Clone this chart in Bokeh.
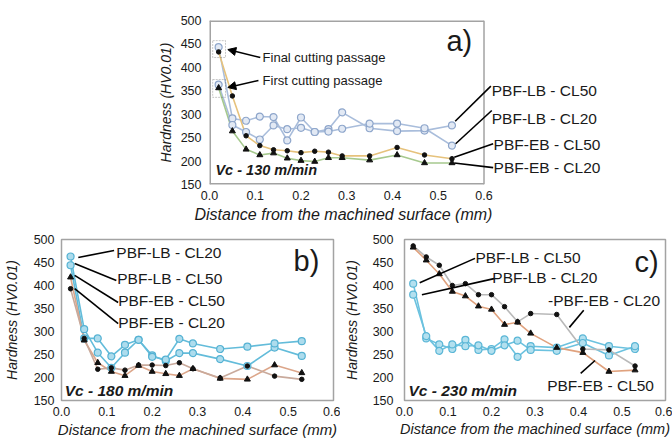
from bokeh.plotting import figure
from bokeh.layouts import column, row
from bokeh.models import (FixedTicker, NumeralTickFormatter, Label, Arrow,
                          NormalHead, BoxAnnotation, Spacer, Range1d, Title)
from bokeh.embed import file_html
from bokeh.resources import INLINE

# ---------------- data ----------------
depth = [0.02, 0.05, 0.08, 0.11, 0.14, 0.17, 0.20, 0.23, 0.26, 0.29, 0.35, 0.41, 0.47, 0.53]

x_ticks = [0.0, 0.1, 0.2, 0.3, 0.4, 0.5, 0.6]
y_ticks = [150, 200, 250, 300, 350, 400, 450, 500]

# a) Vc = 130 m/min
a_lb_cl50 = [443, 291, 286, 295, 294, 244, 293, 262, 268, 304, 270, 264, 265, 276]
a_lb_cl20 = [363, 277, 262, 246, 276, 268, 271, 262, 263, 269, 280, 280, 270, 233]
a_eb_cl50 = [433, 339, 254, 233, 224, 222, 218, 221, 219, 211, 211, 229, 213, 205]
a_eb_cl20 = [356, 264, 225, 213, 217, 206, 201, 199, 207, 207, 202, 213, 196, 196]

# b) Vc = 180 m/min
b_lb_cl20 = [463, 305, 254, 221, 254, 282, 248, 236, 253, 253, 240, 225, 265, 247]
b_lb_cl50 = [444, 285, 285, 246, 271, 282, 245, 239, 284, 274, 262, 267, 274, 279]
b_eb_cl50 = [418, 281, 232, 213, 204, 226, 213, 208, 204, 219, 198, 196, 227, 210]
b_eb_cl20 = [393, 285, 218, 221, 216, 227, 227, 226, 232, 219, 199, 225, 203, 196]

# c) Vc = 230 m/min
c_lb_cl50 = [404, 285, 272, 262, 282, 260, 262, 283, 245, 268, 265, 285, 268, 262]
c_lb_cl20 = [380, 290, 258, 272, 268, 270, 258, 270, 280, 260, 258, 275, 248, 268]
c_eb_cl20 = [486, 462, 444, 400, 404, 380, 380, 354, 321, 339, 337, 262, 260, 225]
c_eb_cl50 = [483, 455, 425, 387, 377, 355, 348, 315, 320, 296, 265, 254, 213, 216]

FONT = "Liberation Sans"
TXT = "#1a1a1a"
FRAME = "#a3a3a3"
XTITLE = "Distance from the machined surface (mm)"
YTITLE = "Hardness (HV0.01)"


def make_fig(width, height, left, right, top, bottom, ylab_standoff, ytick_standoff,
             x_end=0.6, xtitle_size="15px"):
    p = figure(width=width, height=height,
               x_range=Range1d(0, x_end), y_range=Range1d(150, 500),
               output_backend="svg", toolbar_location=None,
               min_border_left=left, min_border_right=right,
               min_border_top=top, min_border_bottom=bottom)
    p.grid.visible = False
    p.background_fill_color = "white"
    p.border_fill_color = "white"
    p.outline_line_color = FRAME
    p.outline_line_width = 1.5
    p.xaxis.ticker = FixedTicker(ticks=x_ticks)
    p.xaxis.formatter = NumeralTickFormatter(format="0.0")
    p.yaxis.ticker = FixedTicker(ticks=y_ticks)
    for ax in p.axis:
        ax.axis_line_color = None
        ax.major_tick_line_color = None
        ax.minor_tick_line_color = None
        ax.major_tick_out = 0
        ax.major_tick_in = 0
        ax.minor_tick_out = 0
        ax.major_label_text_font = FONT
        ax.major_label_text_font_size = "12.5px"
        ax.major_label_text_color = TXT
        ax.axis_label_text_font = FONT
        ax.axis_label_text_font_style = "italic"
        ax.axis_label_text_color = TXT
    p.xaxis.axis_label = XTITLE
    p.xaxis.axis_label_text_font_size = xtitle_size
    p.xaxis.major_label_standoff = 6
    p.xaxis.axis_label_standoff = 2
    p.yaxis.axis_label = YTITLE
    p.yaxis.axis_label_text_font_size = "14px"
    p.yaxis.major_label_standoff = ytick_standoff
    p.yaxis.axis_label_standoff = ylab_standoff
    return p


def markers(p, ys, kind, fill=None, edge=None):
    if kind == "circle":
        p.scatter(depth, ys, marker="circle", size=7, fill_color=fill,
                  line_color=edge, line_width=1.2)
    elif kind == "dot":
        p.scatter(depth, ys, marker="circle", size=4.5, fill_color="#111111",
                  line_color="#111111")
    else:
        p.scatter(depth, ys, marker="triangle", size=6, fill_color="#111111",
                  line_color="#111111")


def text(p, x, y, s, size, style="normal", align="left", baseline="middle"):
    p.add_layout(Label(x=x, y=y, text=s, text_font=FONT, text_font_size=size,
                       text_font_style=style, text_color=TXT, text_align=align,
                       text_baseline=baseline))


def leader(p, x0, y0, x1, y1, head=False, color="black", width=1.6):
    end = NormalHead(size=8, fill_color="black", line_color="black") if head else None
    p.add_layout(Arrow(x_start=x0, y_start=y0, x_end=x1, y_end=y1, end=end,
                       line_color=color, line_width=width))


# ---------------- panel a ----------------
# frame is widened to the right so the series labels can sit beside the data;
# the visible box (0..0.6) is drawn explicitly.
pa = make_fig(532, 225, 69, 0, 20, 41, ylab_standoff=4, ytick_standoff=8,
              x_end=1.012)
pa.outline_line_color = None
pa.xaxis.axis_label = None
pa.add_layout(Title(text=XTITLE, align="left", offset=-15, standoff=2,
                    text_font=FONT, text_font_size="16px",
                    text_font_style="italic", text_color=TXT), "below")
leader(pa, 0, 500, 0.6, 500, color=FRAME, width=3)
leader(pa, 0, 150, 0.6, 150, color=FRAME, width=3)
leader(pa, 0, 150, 0, 500, color=FRAME, width=3)
leader(pa, 0.6, 150, 0.6, 500, color=FRAME, width=1.5)

LB_A, LB_A_FILL, LB_A_EDGE = "#a9bddb", "#e2e9f4", "#8ea6cb"
for ys in (a_lb_cl50, a_lb_cl20):
    pa.line(depth, ys, line_color=LB_A, line_width=1.6)
pa.line(depth, a_eb_cl50, line_color="#e6c27c", line_width=1.6)
pa.line(depth, a_eb_cl20, line_color="#a6c98e", line_width=1.6)
markers(pa, a_lb_cl50, "circle", LB_A_FILL, LB_A_EDGE)
markers(pa, a_lb_cl20, "circle", LB_A_FILL, LB_A_EDGE)
markers(pa, a_eb_cl50, "dot")
markers(pa, a_eb_cl20, "triangle")

pa.add_layout(BoxAnnotation(left=0.007, right=0.035, top=457, bottom=421,
                            fill_alpha=0, line_color="#444444", line_width=1,
                            line_dash="2 1"))
pa.add_layout(BoxAnnotation(left=0.007, right=0.035, top=374, bottom=336,
                            fill_alpha=0, line_color="#444444", line_width=1,
                            line_dash="2 1"))
leader(pa, 0.111, 421, 0.040, 438, head=True)
leader(pa, 0.107, 372, 0.040, 357, head=True)
text(pa, 0.116, 421, "Final cutting passage", "13px")
text(pa, 0.116, 372, "First cutting passage", "13px")
text(pa, 0.518, 457, "a)", "29px")
text(pa, 0.013, 180, "Vc - 130 m/min", "14.5px", style="bold italic")

leader(pa, 0.537, 285, 0.615, 360)
leader(pa, 0.538, 237, 0.617, 308)
leader(pa, 0.535, 208, 0.620, 237)
leader(pa, 0.535, 196, 0.620, 186)
text(pa, 0.617, 351, "PBF-LB - CL50", "15.5px")
text(pa, 0.617, 291, "PBF-LB - CL20", "15.5px")
text(pa, 0.621, 235, "PBF-EB - CL50", "15.5px")
text(pa, 0.621, 186, "PBF-EB - CL20", "15.5px")

# ---------------- panel b ----------------
pb = make_fig(340, 217, 60, 7, 14, 42, ylab_standoff=11, ytick_standoff=7)
LB_B, LB_B_FILL, LB_B_EDGE = "#63bcda", "#addced", "#55b2d3"
pb.line(depth, b_lb_cl20, line_color=LB_B, line_width=1.6)
pb.line(depth, b_lb_cl50, line_color=LB_B, line_width=1.6)
pb.line(depth, b_eb_cl50, line_color="#dca68a", line_width=1.6)
pb.line(depth, b_eb_cl20, line_color="#c9aa9c", line_width=1.6)
markers(pb, b_lb_cl20, "circle", LB_B_FILL, LB_B_EDGE)
markers(pb, b_lb_cl50, "circle", LB_B_FILL, LB_B_EDGE)
markers(pb, b_eb_cl50, "triangle")
markers(pb, b_eb_cl20, "dot")

text(pb, 0.512, 454, "b)", "29px")
text(pb, 0.007, 172, "Vc - 180 m/min", "15.5px", style="bold italic")
leader(pb, 0.037, 461, 0.116, 476)
leader(pb, 0.029, 448, 0.121, 411)
leader(pb, 0.029, 422, 0.125, 363)
leader(pb, 0.029, 393, 0.125, 317)
text(pb, 0.121, 472, "PBF-LB - CL20", "15.5px")
text(pb, 0.123, 415, "PBF-LB - CL50", "15.5px")
text(pb, 0.125, 367, "PBF-EB - CL50", "15.5px")
text(pb, 0.125, 319, "PBF-EB - CL20", "15.5px")

# ---------------- panel c ----------------
pc = make_fig(332, 217, 54, 7, 14, 42, ylab_standoff=10, ytick_standoff=11,
              xtitle_size="14.5px")
LB_C, LB_C_FILL, LB_C_EDGE = "#6cc2df", "#b3e0ef", "#5ab6d6"
pc.line(depth, c_lb_cl50, line_color=LB_C, line_width=1.6)
pc.line(depth, c_lb_cl20, line_color=LB_C, line_width=1.6)
pc.line(depth, c_eb_cl20, line_color="#b9b9b9", line_width=1.6)
pc.line(depth, c_eb_cl50, line_color="#e0a27e", line_width=1.6)
markers(pc, c_lb_cl50, "circle", LB_C_FILL, LB_C_EDGE)
markers(pc, c_lb_cl20, "circle", LB_C_FILL, LB_C_EDGE)
markers(pc, c_eb_cl20, "dot")
markers(pc, c_eb_cl50, "triangle")

text(pc, 0.529, 452, "c)", "29px")
text(pc, 0.009, 172, "Vc - 230 m/min", "15.5px", style="bold italic")
leader(pc, 0.035, 406, 0.162, 459)
leader(pc, 0.040, 380, 0.206, 415)
leader(pc, 0.379, 309, 0.412, 346)
leader(pc, 0.405, 209, 0.438, 237)
text(pc, 0.163, 461, "PBF-LB - CL50", "15.5px")
text(pc, 0.202, 417, "PBF-LB - CL20", "15.5px")
text(pc, 0.330, 367, "-PBF-EB - CL20", "15.5px")
text(pc, 0.328, 183, "PBF-EB - CL50", "15.5px")

layout = column(row(Spacer(width=140, height=225), pa), row(pb, pc))
open("out.html", "w").write(file_html(layout, INLINE))
